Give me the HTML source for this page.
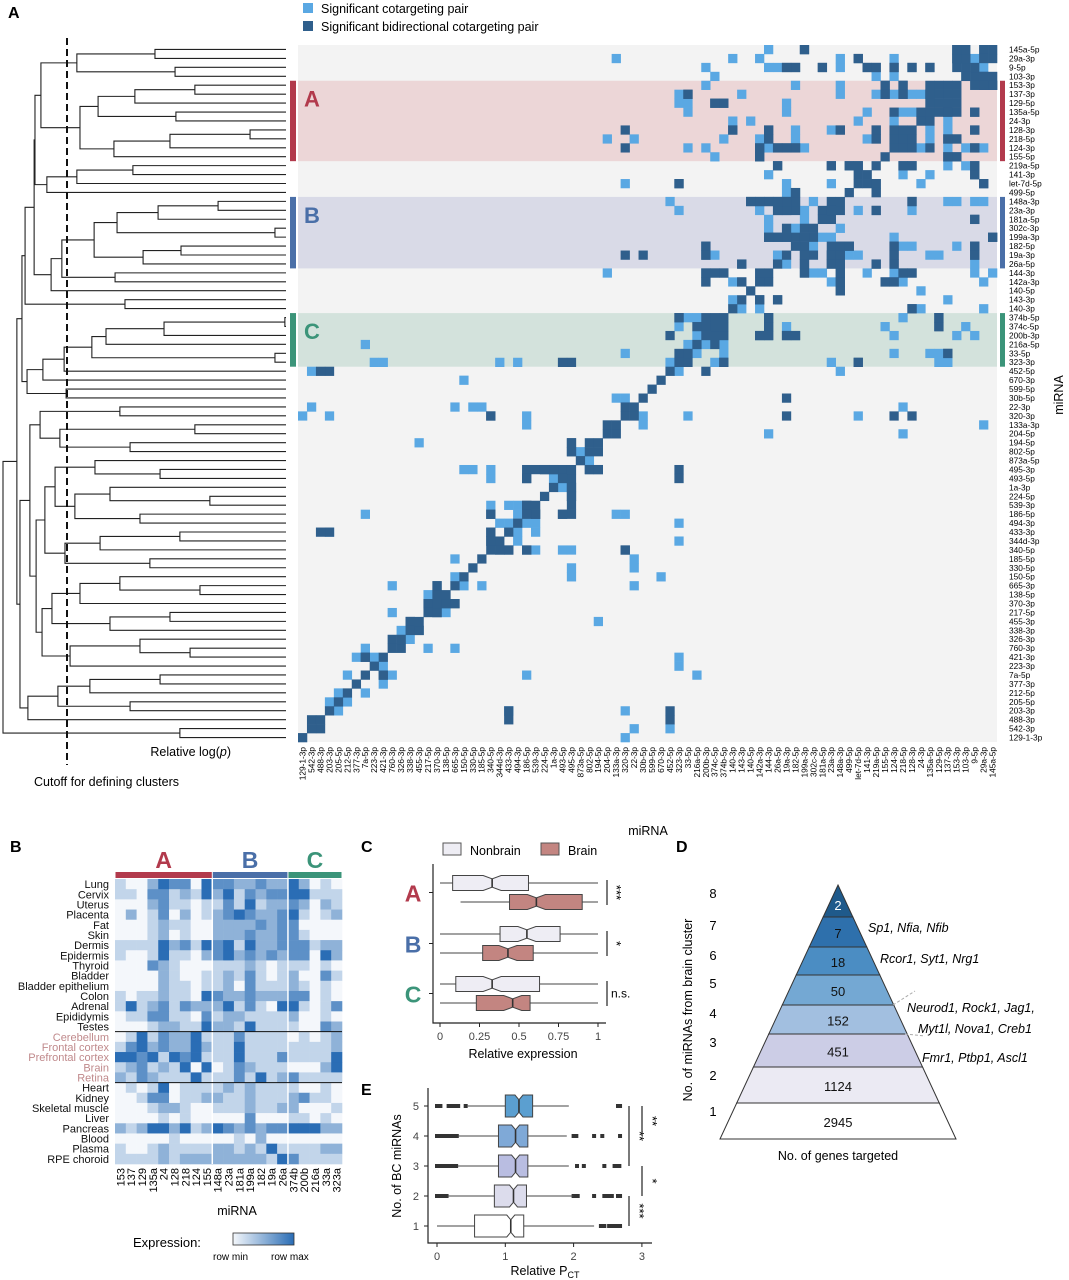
<!DOCTYPE html>
<html><head><meta charset="utf-8"><style>
html,body{margin:0;padding:0;background:#fff;}
svg{display:block;font-family:"Liberation Sans",Arial,sans-serif;}
</style></head><body>
<svg id="fig" width="1069" height="1280" viewBox="0 0 1069 1280" xmlns="http://www.w3.org/2000/svg">
<g id="gA"></g>
<g id="gB"></g>
<g id="gC"></g>
<g id="gD"></g>
<g id="gE"></g>
</svg>
<script>
// ---------- Panel A data ----------
const rowNames = ["145a-5p","29a-3p","9-5p","103-3p","153-3p","137-3p","129-5p","135a-5p","24-3p","128-3p","218-5p","124-3p","155-5p","219a-5p","141-3p","let-7d-5p","499-5p","148a-3p","23a-3p","181a-5p","302c-3p","199a-3p","182-5p","19a-3p","26a-5p","144-3p","142a-3p","140-5p","143-3p","140-3p","374b-5p","374c-5p","200b-3p","216a-5p","33-5p","323-3p","452-5p","670-3p","599-5p","30b-5p","22-3p","320-3p","133a-3p","204-5p","194-5p","802-5p","873a-5p","495-3p","493-5p","1a-3p","224-5p","539-3p","186-5p","494-3p","433-3p","344d-3p","340-5p","185-5p","330-5p","150-5p","665-3p","138-5p","370-3p","217-5p","455-3p","338-3p","326-3p","760-3p","421-3p","223-3p","7a-5p","377-3p","212-5p","205-5p","203-3p","488-3p","542-3p","129-1-3p"];
// pairs: [miRNA i, miRNA j, type] type 1 = cotargeting, 2 = bidirectional
const pairs = [
[0,21,2],[0,4,2],[0,1,2],
[1,42,1],[1,29,1],[1,15,2],[1,11,1],[1,4,2],[1,3,2],
[2,23,2],[2,22,2],[2,19,2],[2,14,2],[2,13,2],[2,11,2],[2,9,2],[2,7,2],[2,3,2],[2,1,1],
[3,31,1],[3,13,1],[3,11,1],[3,1,2],[3,0,2],
[4,32,1],[4,12,2],[4,10,2],[4,7,2],[4,6,2],[4,5,2],[4,2,2],[4,1,2],[4,0,2],
[5,34,2],[5,17,1],[5,12,2],[5,10,2],[5,7,2],
[6,31,2],[6,30,2],[6,7,2],[6,5,2],
[7,34,1],[7,14,1],[7,11,2],[7,10,1],[7,9,1],[7,8,2],[7,5,2],[7,2,2],
[8,29,1],[8,27,1],[8,11,1],[8,5,1],
[9,41,2],[9,29,2],[9,25,2],[9,22,1],[9,17,2],[9,13,2],[9,11,2],[9,10,2],[9,5,1],[9,2,2],
[10,43,1],[10,40,1],[10,30,1],[10,26,1],[10,25,2],[10,22,1],[10,13,2],[10,11,2],[10,5,2],[10,4,2],
[11,41,2],[11,34,1],[11,26,2],[11,24,2],[11,23,2],[11,22,2],[11,5,1],[11,2,2],
[12,31,1],[12,26,2],[12,5,2],[12,4,2],
[13,24,2],[13,18,2],[13,16,2],[13,15,2],[13,10,2],[13,9,2],[13,5,1],[13,2,2],
[14,15,2],[14,10,1],[14,2,2],
[15,41,1],[15,35,2],[15,23,1],[15,18,1],[15,13,2],[15,8,1],[15,1,2],
[16,22,2],[16,13,2],
[17,36,1],[17,27,2],[17,26,2],[17,25,2],[17,24,2],[17,23,2],[17,22,2],[17,18,2],[17,9,2],[17,4,1],[17,2,1],[17,1,1],
[18,26,1],[18,24,2],[18,23,2],[18,19,2],[18,13,2],[18,9,1],
[19,25,1],[19,2,2],
[20,25,1],[20,23,2],[20,22,1],[20,21,2],[20,17,1],
[21,25,2],[21,24,2],[21,23,2],[21,22,2],[21,19,1],[21,18,1],[21,11,1],[21,0,2],
[22,32,2],[22,18,2],[22,17,2],[22,16,2],[22,11,2],[22,4,1],[22,2,2],
[23,41,2],[23,39,2],[23,32,2],[23,21,2],[23,18,2],[23,17,2],[23,16,1],[23,11,2],[23,7,1],[23,6,1],[23,2,2],
[24,28,2],[24,23,1],[24,21,2],[24,18,2],[24,17,2],[24,13,2],[24,11,2],[24,2,1],
[25,43,1],[25,32,2],[25,31,2],[25,30,2],[25,26,2],[25,21,2],[25,17,2],[25,14,1],[25,11,1],[25,10,2],[25,9,2],[25,2,1],[25,0,1],
[26,32,2],[26,28,2],[26,17,2],[26,12,2],[26,11,2],[26,1,1],
[27,17,2],
[28,29,1],[28,26,2],[28,24,2],[28,5,1],
[29,26,1],[29,9,2],
[30,35,2],[30,32,2],[30,31,2],[30,25,2],[30,6,2],
[31,32,2],[31,25,2],[31,23,1],[31,6,2],
[32,36,2],[32,26,2],[32,25,2],[32,23,2],[32,22,2],[32,11,1],[32,2,1],
[33,32,1],[33,31,2],[33,30,1],
[34,35,2],[34,33,1],[34,30,1],[34,6,1],[34,5,2],
[35,31,1],[35,30,2],[35,18,1],[35,15,2],[35,6,1],[35,5,1],
[36,74,2],[36,35,1],[37,59,1],
[40,41,2],[41,77,1],[41,74,1],[41,56,2],[41,52,1],[41,34,1],[41,39,1],[42,39,1],[42,52,1],[42,43,2],
[44,45,2],[44,47,2],[45,47,2],[46,45,1],
[47,52,2],[47,51,2],[47,50,2],[47,49,2],[47,48,2],[47,45,2],[47,44,2],[47,35,2],
[48,52,2],[48,49,1],[48,35,2],[49,47,2],[50,47,2],[51,56,1],[51,52,2],[52,56,2],[52,51,2],[52,48,2],[52,70,1],
[53,52,1],[53,51,1],[53,35,1],[54,74,2],[54,56,2],[54,53,1],[54,51,1],[55,56,2],[55,53,1],[55,35,1],
[56,55,2],[56,54,2],[56,52,2],[56,48,1],[56,47,1],[56,41,2],[57,40,1],[58,47,1],[58,40,1],[59,47,1],
[60,62,2],[60,59,1],[60,57,1],[60,40,1],[61,63,1],[61,62,2],[62,63,2],[62,61,2],[62,60,2],[63,62,2],
[64,65,2],[64,44,1],[65,66,1],[65,64,2],[66,67,2],[67,70,1],[67,63,1],[67,60,1],
[68,71,1],[68,70,2],[68,35,1],[69,68,1],[69,35,1],[70,72,1],[70,68,2],[70,33,1],[73,72,1],[74,73,1],[74,54,1],
[75,54,2],[75,36,2],[75,76,2],[76,40,1],[76,36,1]
];
// dendrogram merge heights between adjacent leaves (0 = leaf level, 100 = root)
const mergeHeights = [46.3,73.9,39.2,86.6,32.2,53.4,66.4,38.9,72.8,12.7,41.0,60.8,88.7,54.1,73.9,84.5,89.0,24.0,45.2,59.7,3.9,67.8,37.1,50.5,79.2,60.4,83.0,92.2,56.9,93.3,0.4,43.1,63.6,68.6,3.9,78.4,85.9,91.5,77.7,95.1,58.7,86.9,32.2,79.9,55.1,90.5,67.5,44.5,81.6,62.2,26.9,74.6,51.6,85.2,37.5,65.7,78.1,48.1,88.3,58.7,30.4,72.8,82.7,41.0,62.2,86.2,51.6,33.9,76.3,94.0,44.5,69.3,80.6,55.1,91.2,100,37.5];
const clusterNames = ["A","B","C"];
const clusterStart = [4,17,30];
const clusterEnd = [12,24,35];
const clusterColors = ["#b23a4c","#4a6fa8","#3b9479"];
const bandColors = ["#ecd6d7","#d9dae7","#d3e2dc"];

// ---------- Panel B data ----------
const tissues = ["Lung","Cervix","Uterus","Placenta","Fat","Skin","Dermis","Epidermis","Thyroid","Bladder","Bladder epithelium","Colon","Adrenal","Epididymis","Testes","Cerebellum","Frontal cortex","Prefrontal cortex","Brain","Retina","Heart","Kidney","Skeletal muscle","Liver","Pancreas","Blood","Plasma","RPE choroid"];
const brainTissues = ["Cerebellum","Frontal cortex","Prefrontal cortex","Brain","Retina"];
const bMirnas = ["153","137","129","135a","24","128","218","124","155","148a","23a","181a","199a","182","19a","26a","374b","200b","216a","33a","323a"];
const bGroupSizes = [9,7,5];
const expr = [
"100243304332232242010","110331214241323344111","000231101131412232021","020130201234322341012","000121100222232330000","000120100222322331000","111142314341422333122","100141102342323233042","000321000111210111010","000021001121310120031","000021101120311121010","101121104322322233010","141231322241310441013","011331103122111120010","000122114221411110032","014132241113111101012","134232242114111111112","443414341114111311114","123121404013211100024","213211141113141231111","010140111121211110010","001330112211211123110","000122100111211220001","000010100000300011010","212442412432323344422","000001000001020000000","100121111221214111122","111121222222221431111"];

// ---------- Panel C data ----------
const cGroups = ["A","B","C"];
const cStats = [[0,0.08,0.33,0.56,1],[0.13,0.44,0.61,0.90,1],[0,0.38,0.55,0.76,1],[0,0.27,0.43,0.59,1],[0,0.10,0.33,0.63,1],[0,0.23,0.46,0.57,1]];
const cTicks = [0,0.25,0.5,0.75,1];
const cTickLabels = ["0","0.25","0.5","0.75","1"];
const cSig = ["***","*","n.s."];

// ---------- Panel D data ----------
const dLevels = [8,7,6,5,4,3,2,1];
const dCounts = [2,7,18,50,152,451,1124,2945];
const dColors = ["#1f5a8b","#2e70ac","#4b8dc3","#74a8d3","#a2bfe0","#cccde6","#ebeaf3","#ffffff"];

// ---------- Panel E data ----------
const eLevels = [5,4,3,2,1];
const eStats = [[0.45,1.0,1.2,1.4,1.93],[0.3,0.9,1.15,1.33,1.9],[0.3,0.9,1.15,1.33,1.93],[0.15,0.84,1.12,1.31,2.0],[0,0.55,1.08,1.27,2.3]];
const eColors = ["#5b9fd0","#7fa9d7","#b9bde1","#dcdcec","#ffffff"];
const eOutRuns = [[[0,0.05],[0.17,0.31],[0.42,0.42],[2.65,2.68]],[[0,0.29],[2.0,2.04],[2.3,2.3],[2.42,2.42],[2.68,2.68]],[[0,0.28],[2.05,2.05],[2.15,2.15],[2.45,2.45],[2.6,2.67]],[[0,0.14],[2.0,2.06],[2.3,2.3],[2.45,2.56],[2.65,2.68]],[[2.4,2.45],[2.52,2.68]]];
const eTicks = [0,1,2,3];

// ---------- helpers ----------
const NS = "http://www.w3.org/2000/svg";
function el(tag, parent, attrs, text) {
  const e = document.createElementNS(NS, tag);
  for (const k in attrs) e.setAttribute(k, attrs[k]);
  if (text !== undefined) e.textContent = text;
  parent.appendChild(e);
  return e;
}
const gA = document.getElementById("gA"), gB = document.getElementById("gB"),
      gC = document.getElementById("gC"), gD = document.getElementById("gD"), gE = document.getElementById("gE");

// ---------- Panel A ----------
const N = rowNames.length;
const X0 = 298, X1 = 997, Y0 = 45, Y1 = 742;
const CW = (X1 - X0) / N, CH = (Y1 - Y0) / N;
const colX = k => X0 + (N - 1 - k) * CW;
const rowY = r => Y0 + r * CH;

let t;
t = el("text", gA, {x: 8, y: 18, "font-size": 16, "font-weight": "bold"}, "A");



// legend
const legTypes = [["#5aa8e3", "Significant cotargeting pair"], ["#2f5f8c", "Significant bidirectional cotargeting pair"]];
legTypes.forEach((lt, i) => {
  const r = el("rect", gA, {x: 303, y: 3 + i * 18, width: 10, height: 10, fill: lt[0]});
  
  
  const tx = el("text", gA, {x: 321, y: 13 + i * 18, "font-size": 12.5}, lt[1]);
  
  
});

const bg = el("rect", gA, {x: X0, y: Y0, width: X1 - X0, height: Y1 - Y0, fill: "#f3f3f3"});



clusterNames.forEach((cn, i) => {
  const y = rowY(clusterStart[i]), h = rowY(clusterEnd[i] + 1) - y;
  const b = el("rect", gA, {x: X0, y: y, width: X1 - X0, height: h, fill: bandColors[i]});
  
  
  const lb = el("rect", gA, {x: 290, y: y, width: 6, height: h, fill: clusterColors[i]});
  
  
  const rb = el("rect", gA, {x: 1000, y: y, width: 5, height: h, fill: clusterColors[i]});
  
  
  const lt = el("text", gA, {x: 304, y: y + 26, "font-size": 22, "font-weight": "bold", fill: clusterColors[i]}, cn);
  
  
});

function cell(r, k, type) {
  const c = el("rect", gA, {x: colX(k), y: rowY(r), width: CW + 0.3, height: CH + 0.3, fill: type === 2 ? "#2f5f8c" : "#5aa8e3"});
  
  
}
[1, 2].forEach(tp => {
  pairs.forEach(p => { if (p[2] === tp) { cell(p[0], p[1], tp); cell(p[1], p[0], tp); } });
});
for (let r = 0; r < N; r++) cell(r, r, 2);

rowNames.forEach((nm, r) => {
  const tx = el("text", gA, {x: 1009, y: rowY(r) + CH / 2 + 3, "font-size": 8.3}, nm);
  
  
  const cx = colX(r) + CW / 2 + 3;
  const tc = el("text", gA, {x: cx, y: 747, "font-size": 8.3, "text-anchor": "end", transform: "rotate(-90 " + cx + " 747)"}, nm);
  
  
});
t = el("text", gA, {x: 648, y: 835, "font-size": 12.5, "text-anchor": "middle"}, "miRNA");


t = el("text", gA, {x: 1063, y: 395, "font-size": 12.5, "text-anchor": "middle", transform: "rotate(-90 1063 395)"}, "miRNA");



// dendrogram
const LEAF_X = 286, ROOT_X = 3;
const hx = h => LEAF_X - h / 100 * (LEAF_X - ROOT_X);
const dend = el("g", gA, {stroke: "#222", "stroke-width": 1.1, fill: "none"});


function build(a, b) {
  if (a === b) return {x: LEAF_X, y: rowY(a) + CH / 2};
  let m = a;
  for (let i = a; i < b; i++) if (mergeHeights[i] > mergeHeights[m]) m = i;
  const L = build(a, m), R = build(m + 1, b);
  const x = hx(mergeHeights[m]);
  const p = el("path", dend, {d: "M" + L.x + " " + L.y + "H" + x + "V" + R.y + "H" + R.x});
  
  
  return {x: x, y: (L.y + R.y) / 2};
}
build(0, N - 1);
const cut = el("line", gA, {x1: 67, y1: 38, x2: 67, y2: 765, stroke: "#111", "stroke-width": 2, "stroke-dasharray": "7,4"});


t = el("text", gA, {x: 231, y: 756, "font-size": 12.5, "text-anchor": "end"}, "Relative log(");


const ti = el("tspan", t, {"font-style": "italic"}, "p");
el("tspan", t, {}, ")");
t = el("text", gA, {x: 34, y: 786, "font-size": 12.5}, "Cutoff for defining clusters");



// ---------- Panel B ----------
t = el("text", gB, {x: 10, y: 852, "font-size": 16, "font-weight": "bold"}, "B");


const BX0 = 115, BX1 = 342, BY0 = 879, BY1 = 1164;
const bcw = (BX1 - BX0) / bMirnas.length, bch = (BY1 - BY0) / tissues.length;
function blue(v) {
  const f = v / 4, a = [244, 247, 251], b = [42, 109, 181];
  return "rgb(" + a.map((x, i) => Math.round(x + (b[i] - x) * f)).join(",") + ")";
}
expr.forEach((row, i) => {
  for (let j = 0; j < row.length; j++) {
    const c = el("rect", gB, {x: BX0 + j * bcw, y: BY0 + i * bch, width: bcw + 0.3, height: bch + 0.3, fill: blue(+row[j])});
    
    
  }
});
let gs = 0;
bGroupSizes.forEach((sz, gi) => {
  const x = BX0 + gs * bcw;
  const bar = el("rect", gB, {x: x + 0.5, y: 872, width: sz * bcw - 1, height: 6, fill: clusterColors[gi]});
  
  
  const gt = el("text", gB, {x: x + sz * bcw / 2, y: 868, "font-size": 23, "font-weight": "bold", fill: clusterColors[gi], "text-anchor": "middle"}, clusterNames[gi]);
  
  
  if (gs > 0) {
    const sep = el("line", gB, {x1: x, y1: BY0, x2: x, y2: BY1, stroke: "#fff", "stroke-width": 1.5});
    
    
  }
  gs += sz;
});
[15, 20].forEach(i => {
  const ln = el("line", gB, {x1: BX0, y1: BY0 + i * bch, x2: BX1, y2: BY0 + i * bch, stroke: "#111", "stroke-width": 1});
  
  
});
tissues.forEach((tn, i) => {
  const tx = el("text", gB, {x: 109, y: BY0 + i * bch + bch / 2 + 4, "font-size": 11, "text-anchor": "end", fill: brainTissues.includes(tn) ? "#c08a8c" : "#111"}, tn);
  
  
});
bMirnas.forEach((m, j) => {
  const cx = BX0 + j * bcw + bcw / 2 + 4;
  const tx = el("text", gB, {x: cx, y: 1168, "font-size": 11, "text-anchor": "end", transform: "rotate(-90 " + cx + " 1168)"}, m);
  
  
});
t = el("text", gB, {x: 237, y: 1215, "font-size": 12.5, "text-anchor": "middle"}, "miRNA");


t = el("text", gB, {x: 133, y: 1247, "font-size": 13}, "Expression:");


const defs = el("defs", gB, {});
const lg = el("linearGradient", defs, {id: "bgrad"});
el("stop", lg, {offset: "0", "stop-color": blue(0)});
el("stop", lg, {offset: "1", "stop-color": blue(4)});
const gbox = el("rect", gB, {x: 233, y: 1233, width: 61, height: 12, fill: "url(#bgrad)", stroke: "#333", "stroke-width": 0.8});


t = el("text", gB, {x: 213, y: 1260, "font-size": 10}, "row min");


t = el("text", gB, {x: 271, y: 1260, "font-size": 10}, "row max");



// ---------- box helper ----------
function notchBox(g, x, y, h, st, fill, notch, name) {
  const [lo, q1, md, q3, hi] = st.map(x);
  const n = notch, top = y - h / 2, bot = y + h / 2, ins = h * 0.22;
  const w1 = el("line", g, {x1: lo, y1: y, x2: q1, y2: y, stroke: "#444", "stroke-width": 1});
  
  
  const w2 = el("line", g, {x1: q3, y1: y, x2: hi, y2: y, stroke: "#444", "stroke-width": 1});
  
  
  const pts = [[q1, top], [md - n, top], [md, top + ins], [md + n, top], [q3, top], [q3, bot], [md + n, bot], [md, bot - ins], [md - n, bot], [q1, bot]];
  const p = el("polygon", g, {points: pts.map(q => q.join(",")).join(" "), fill: fill, stroke: "#444", "stroke-width": 1});
  
  
  const m = el("line", g, {x1: md, y1: top + ins, x2: md, y2: bot - ins, stroke: "#333", "stroke-width": 1.6});
  
  
}

// ---------- Panel C ----------
t = el("text", gC, {x: 361, y: 852, "font-size": 16, "font-weight": "bold"}, "C");


const xC = v => 440 + v * 158;
const cY = [883, 902, 934, 953, 984, 1003];
const cFill = ["#eeedf4", "#c38581"];
cStats.forEach((st, i) => notchBox(gC, xC, cY[i], 15, st, cFill[i % 2], 9, i % 2 ? 'brain-box' : 'nonbrain-box'));
const legC = [["Nonbrain", 443, 470], ["Brain", 541, 568]];
legC.forEach((l, i) => {
  const r = el("rect", gC, {x: l[1], y: 843, width: 18, height: 12, fill: cFill[i], stroke: "#555"});
  
  
  const tx = el("text", gC, {x: l[2], y: 855, "font-size": 12.5}, l[0]);
  
  
});
cGroups.forEach((g, i) => {
  const y = (cY[2 * i] + cY[2 * i + 1]) / 2;
  const tx = el("text", gC, {x: 413, y: y + 9, "font-size": 23, "font-weight": "bold", fill: clusterColors[i], "text-anchor": "middle"}, g);
  
  
  const tk = el("line", gC, {x1: 429, y1: y, x2: 433, y2: y, stroke: "#222"});
  
  
  const sb = el("line", gC, {x1: 607, y1: cY[2 * i] - 3, x2: 607, y2: cY[2 * i + 1] + 3, stroke: "#222", "stroke-width": 1.2});
  
  
  let st;
  if (cSig[i] === "n.s.") st = el("text", gC, {x: 611, y: y + 4, "font-size": 12}, cSig[i]);
  else st = el("text", gC, {x: 612, y: y, "font-size": 13, "text-anchor": "middle", transform: "rotate(90 612 " + y + ")"}, cSig[i]);
  
  
});
const cAxes = el("path", gC, {d: "M433 864V1023H606", fill: "none", stroke: "#222", "stroke-width": 1.2});


cTicks.forEach((v, i) => {
  const tk = el("line", gC, {x1: xC(v), y1: 1023, x2: xC(v), y2: 1027, stroke: "#222"});
  
  
  const tl = el("text", gC, {x: xC(v), y: 1040, "font-size": 11, "text-anchor": "middle", fill: "#444"}, cTickLabels[i]);
  
  
});
t = el("text", gC, {x: 523, y: 1058, "font-size": 12.5, "text-anchor": "middle"}, "Relative expression");



// ---------- Panel E ----------
t = el("text", gE, {x: 361, y: 1095, "font-size": 16, "font-weight": "bold"}, "E");


const xE = v => 437 + v * 68.3;
const yE = lv => 1226 - (lv - 1) * 30;
eLevels.forEach((lv, i) => {
  const y = yE(lv);
  eOutRuns[i].forEach(run => {
    const o = el("rect", gE, {x: xE(run[0]) - 2, y: y - 2, width: xE(run[1]) - xE(run[0]) + 4, height: 4, fill: "#333"});
    
    
  });
  notchBox(gE, xE, y, 22, eStats[i], eColors[i], 4, 'box-level-' + lv);
  const tk = el("line", gE, {x1: 424, y1: y, x2: 428, y2: y, stroke: "#222"});
  
  
  const tl = el("text", gE, {x: 419, y: y + 4, "font-size": 11, "text-anchor": "end", fill: "#444"}, String(lv));
  
  
});
const eAxes = el("path", gE, {d: "M428 1088V1243H652", fill: "none", stroke: "#222", "stroke-width": 1.2});


eTicks.forEach(v => {
  const tk = el("line", gE, {x1: xE(v), y1: 1243, x2: xE(v), y2: 1247, stroke: "#222"});
  
  
  const tl = el("text", gE, {x: xE(v), y: 1260, "font-size": 11, "text-anchor": "middle", fill: "#444"}, String(v));
  
  
});
const eSig = [[629, 5, 3, "**"], [642, 5, 4, "**"], [642, 3, 2, "*"], [629, 2, 1, "***"]];
eSig.forEach(s => {
  const y1 = yE(s[1]), y2 = yE(s[2]);
  const b = el("line", gE, {x1: s[0], y1: y1, x2: s[0], y2: y2, stroke: "#222", "stroke-width": 1.2});
  
  
  const my = (y1 + y2) / 2, tx = s[0] + 6;
  const l = el("text", gE, {x: tx, y: my, "font-size": 13, "text-anchor": "middle", transform: "rotate(90 " + tx + " " + my + ")"}, s[3]);
  
  
});
t = el("text", gE, {x: 401, y: 1166, "font-size": 12.5, "text-anchor": "middle", transform: "rotate(-90 401 1166)"}, "No. of BC miRNAs");


t = el("text", gE, {x: 545, y: 1275, "font-size": 12.5, "text-anchor": "middle"}, "Relative P");


el("tspan", t, {"font-size": 9, dy: 3}, "CT");

// ---------- Panel D ----------
t = el("text", gD, {x: 676, y: 852, "font-size": 16, "font-weight": "bold"}, "D");


const apexX = 838, apexY = 885, baseY = 1139, baseHalf = 118;
const dBounds = [885, 917, 947, 975, 1005, 1034, 1067, 1103, 1139];
const halfAt = y => (y - apexY) / (baseY - apexY) * baseHalf;
dLevels.forEach((lv, i) => {
  const ya = dBounds[i], yb = dBounds[i + 1];
  const pts = [[apexX - halfAt(ya), ya], [apexX + halfAt(ya), ya], [apexX + halfAt(yb), yb], [apexX - halfAt(yb), yb]];
  const p = el("polygon", gD, {points: pts.map(q => q.join(",")).join(" "), fill: dColors[i], stroke: "#333", "stroke-width": 1});
  
  
  const cy = (ya + yb) / 2;
  const ct = el("text", gD, {x: apexX, y: cy + (i === 0 ? 9 : 6), "font-size": 13, "text-anchor": "middle", fill: i === 0 ? "#fff" : "#111"}, String(dCounts[i]));
  
  
  const yl = el("text", gD, {x: 713, y: ya + 13, "font-size": 13, "text-anchor": "middle"}, String(lv));
  
  
});
const notes = [[868, 932, "Sp1, Nfia, Nfib"], [880, 963, "Rcor1, Syt1, Nrg1"], [907, 1012, "Neurod1, Rock1, Jag1,"], [918, 1033, "Myt1l, Nova1, Creb1"], [922, 1062, "Fmr1, Ptbp1, Ascl1"]];
notes.forEach(n => {
  const tx = el("text", gD, {x: n[0], y: n[1], "font-size": 12.5, "font-style": "italic"}, n[2]);
  
  
});
[[893, 1005, 915, 991], [905, 1034, 925, 1036]].forEach(l => {
  const ln = el("line", gD, {x1: l[0], y1: l[1], x2: l[2], y2: l[3], stroke: "#aaa", "stroke-dasharray": "3,2"});
  
  
});
t = el("text", gD, {x: 692, y: 1010, "font-size": 12.5, "text-anchor": "middle", transform: "rotate(-90 692 1010)"}, "No. of miRNAs from brain cluster");


t = el("text", gD, {x: 838, y: 1160, "font-size": 12.5, "text-anchor": "middle"}, "No. of genes targeted");


</script>
</body></html>
